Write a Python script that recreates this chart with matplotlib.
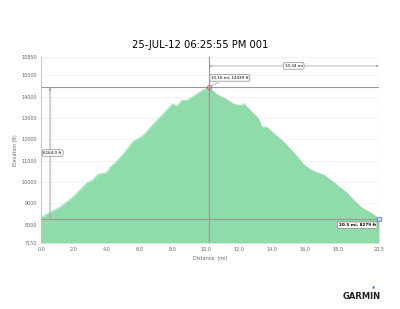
import matplotlib
matplotlib.use("Agg")
import matplotlib.pyplot as plt
import numpy as np

# elevation profile
dist = [0.0, 0.55, 1.15, 1.95, 2.8, 3.1, 3.45, 4.0, 4.2, 4.6, 5.0, 5.6, 6.2, 7.0, 7.6,
        8.0, 8.2, 8.55, 8.85, 9.15, 9.6, 10.16, 10.65, 11.25, 11.75, 12.2, 12.3, 12.65,
        13.15, 13.4, 13.7, 14.1, 14.7, 15.5, 15.9, 16.3, 16.7, 17.1, 17.7, 18.55, 19.15,
        19.5, 19.95, 20.35, 20.5]
elev = [8340, 8580, 8820, 9300, 9970, 10070, 10350, 10450, 10700, 10980, 11320, 11900,
        12180, 12860, 13340, 13670, 13530, 13820, 13820, 13960, 14200, 14439, 14100, 13860,
        13620, 13580, 13670, 13380, 13000, 12570, 12570, 12280, 11890, 11220, 10840, 10600,
        10450, 10350, 10020, 9490, 9010, 8770, 8580, 8380, 8279]

peak_x, peak_y = 10.16, 14439
end_x, end_y = 20.5, 8279
ymin, ymax = 7150, 15850
xticks = [0.0, 2.0, 4.0, 6.0, 8.0, 10.0, 12.0, 14.0, 16.0, 18.0, 20.5]
yticks = [7150, 8000, 9000, 10000, 11000, 12000, 13000, 14000, 15000, 15850]
title = "25-JUL-12 06:25:55 PM 001"

fig = plt.figure(figsize=(4, 3.09), dpi=100)
ax = fig.add_axes([0.1025, 0.2136, 0.845, 0.602])

ax.fill_between(dist, elev, ymin, color="#8fdbaa", lw=0)
ax.plot(dist, elev, color="#86d5a2", lw=0.5)

ax.set_xlim(0, 20.5)
ax.set_ylim(ymin, ymax)
ax.set_xticks(xticks)
ax.set_xticklabels(["%.1f" % v for v in xticks])
ax.set_yticks(yticks)
ax.set_yticklabels([str(v) for v in yticks])
ax.tick_params(labelsize=3.5, colors="#666666", length=0, pad=3)
ax.grid(axis="y", color="#eeeeee", lw=0.5)
ax.set_axisbelow(True)
for s in ["top", "bottom", "right"]:
    ax.spines[s].set_visible(False)
ax.spines["left"].set_color("#bbbbbb")
ax.spines["left"].set_linewidth(0.6)
ax.axvline(20.5, color="#b8e6c8", lw=0.8)

ax.set_xlabel("Distance  (mi)", fontsize=3.5, color="#666666", labelpad=3)
ax.set_ylabel("Elevation (ft)", fontsize=3.5, color="#666666", labelpad=2)
fig.text(0.5, 0.853, title, ha="center", va="center", fontsize=7.2)

# measurement lines
ax.axhline(peak_y, color="#999999", lw=0.8)
ax.axhline(end_y, color="#999999", lw=0.8)
ax.axvline(peak_x, color="#999999", lw=0.8)

box = dict(boxstyle="round,pad=0.3", fc="white", ec="#888888", lw=0.5)
ax.annotate("", xy=(0.55, peak_y), xytext=(0.55, end_y),
            arrowprops=dict(arrowstyle="<|-|>", color="#aaaaaa", lw=0.8,
                            mutation_scale=3, shrinkA=0, shrinkB=0))
ax.text(0.15, (peak_y + end_y) / 2, "%.1f ft" % 6164.0, fontsize=3, va="center",
        ha="left", bbox=box)

ax.annotate("", xy=(peak_x, 15430), xytext=(end_x, 15430),
            arrowprops=dict(arrowstyle="<|-|>", color="#aaaaaa", lw=0.6,
                            mutation_scale=3, shrinkA=0, shrinkB=0))
ax.text((peak_x + end_x) / 2, 15430, "10.34 mi", fontsize=3, va="center",
        ha="center", bbox=box)

ax.annotate("10.16 mi, 14439 ft", xy=(peak_x, peak_y), xytext=(peak_x + 0.15, 14870),
            fontsize=3, va="center", ha="left", bbox=box,
            arrowprops=dict(arrowstyle="-", color="#888888", lw=0.4))
ax.plot(peak_x, peak_y, "o", ms=3, mfc="none", mec="#e05050", mew=0.6)

ax.text(18.05, 7980, "20.5 mi, 8279 ft", fontsize=3, va="center", ha="left",
        bbox=box, fontweight="bold")
ax.plot(end_x, end_y, "s", ms=2.5, mfc="#c8d8f0", mec="#5070c0", mew=0.5, clip_on=False)

# logo
fig.text(0.905, 0.042, "GARMIN", ha="center", va="center", fontsize=6,
         fontweight="bold", color="#222222")
fig.text(0.934, 0.068, "\u25b2", ha="center", va="center", fontsize=3, color="#3080e0")

fig.savefig("out.png", dpi=100)
